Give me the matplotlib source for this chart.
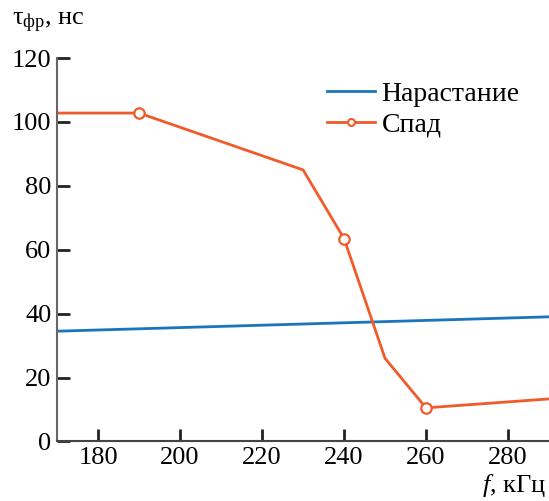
import matplotlib.pyplot as plt

plt.rcParams['font.family'] = ['Liberation Serif', 'DejaVu Serif']
plt.rcParams['mathtext.fontset'] = 'custom'
plt.rcParams['mathtext.rm'] = 'Liberation Serif'
plt.rcParams['mathtext.it'] = 'Liberation Serif:italic'

# data
f_rise = [170, 290]
t_rise = [34.5, 39]

f_fall = [170, 190, 230, 240, 250, 260, 290]
t_fall = [102.8, 102.8, 85, 63.5, 26, 10.5, 13.3]
f_fall_mark = [190, 240, 260]
t_fall_mark = [102.8, 63.5, 10.5]

blue = '#1b75bc'
orange = '#f15a29'

fig = plt.figure(figsize=(5.49, 5.01), dpi=100)
ax = fig.add_axes([0.104, 0.119, 0.896, 0.765])

ax.plot(f_rise, t_rise, color=blue, lw=2, label='Нарастание')
ax.plot(f_fall, t_fall, color=orange, lw=2)
ax.plot(f_fall_mark, t_fall_mark, 'o', color=orange, mfc='white', ms=7.5, mew=1.6)
# legend entry for the falling edge: line with a marker in the middle
ax.plot([], [], color=orange, lw=2, marker='o', mfc='white', ms=5, mew=1.5, label='Спад')

ax.set_xlim(170, 290)
ax.set_ylim(0, 120)
ax.set_xticks([180, 200, 220, 240, 260, 280])
ax.set_yticks([0, 20, 40, 60, 80, 100, 120])

for s in ['top', 'right']:
    ax.spines[s].set_visible(False)
ax.spines['left'].set_color('#666666')
ax.spines['left'].set_linewidth(1.5)
ax.spines['bottom'].set_color('#444444')
ax.spines['bottom'].set_linewidth(1.5)

ax.tick_params(direction='in', length=9, width=2, color='#222222', labelsize=19)
ax.tick_params(axis='y', pad=4)
ax.tick_params(axis='x', pad=4)

ax.legend(loc='upper right', bbox_to_anchor=(0.98, 0.99), frameon=False, fontsize=20,
          handlelength=1.7, handletextpad=0.25, labelspacing=0.2, borderaxespad=0.3)

fig.text(0.022, 0.955, r'$\mathregular{\tau_{фр}}$, нс', fontsize=19, va='center', ha='left')
fig.text(0.995, 0.004, r'$f$, кГц', fontsize=19, ha='right', va='bottom')

fig.savefig('out.png', dpi=100)
